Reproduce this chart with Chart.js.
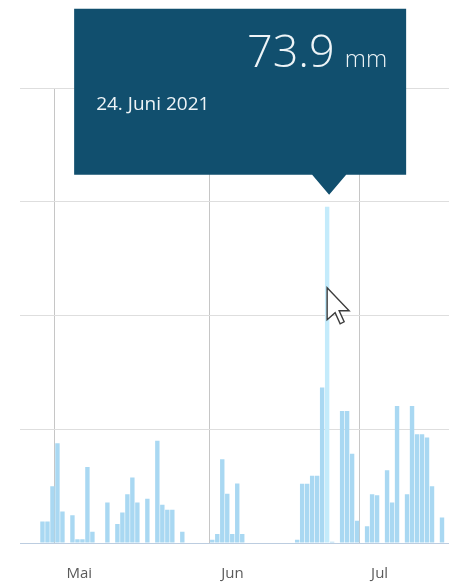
<!DOCTYPE html>
<html>
<head>
<meta charset="utf-8">
<script src="https://cdn.jsdelivr.net/npm/chart.js@4.4.0/dist/chart.umd.min.js"></script>
<style>
html, body { margin: 0; padding: 0; background: #fff; overflow: hidden; width: 449px; height: 587px; }
canvas { display: block; }
</style>
</head>
<body>
<canvas id="regen" width="449" height="587"></canvas>
<script>
// Niederschlag pro Tag in mm
const aprilStart = 24; // 24. April ist der erste sichtbare Tag
const aprilWerte = [0, 0, 0, 0, 4.7, 4.7, 12.5];
const maiWerte = [21.9, 6.9, 0, 6.1, 0.8, 0.8, 16.7, 2.5, 0, 0,
                  8.9, 0, 4.2, 6.7, 10.7, 14.4, 8.9, 0, 9.7, 0,
                  22.5, 8.4, 7.3, 7.3, 0, 2.5, 0, 0, 0, 0, 0];
const juniWerte = [0.7, 2.0, 18.4, 10.8, 2.0, 13.1, 2.0, 0, 0, 0,
                   0, 0, 0, 0, 0, 0, 0, 0.7, 13.0, 13.0,
                   14.8, 14.8, 34.2, 73.9, 0.3, 0, 29.0, 29.0, 19.6, 4.9];
const juliWerte = [0, 3.7, 10.7, 10.5, 0, 16.0, 8.9, 30.1, 0, 10.7,
                   30.1, 23.9, 23.9, 23.2, 12.5, 0, 5.6, 0];

const monatsNamen = { 4: 'April', 5: 'Mai', 6: 'Juni', 7: 'Juli' };
const monatsKurz = { 4: 'Apr', 5: 'Mai', 6: 'Jun', 7: 'Jul' };
const yTicks = [0, 25, 50, 75, 100];
const markierterTag = '2021-06-24';
const einheit = 'mm';

// gewuenschte Lage der Zeichenflaeche im Fenster
const flaecheRechts = 449;
const flaecheUnten = 543;

// Kategorien (ein Tag pro Balken) aus den Monatslisten
const tage = [];
const werte = [];
function monatAnhaengen(monat, ersterTag, liste) {
    liste.forEach(function(v, i) {
        const t = ersterTag + i;
        tage.push('2021-' + String(monat).padStart(2, '0') + '-' + String(t).padStart(2, '0'));
        werte.push(v);
    });
}
monatAnhaengen(4, aprilStart, aprilWerte);
monatAnhaengen(5, 1, maiWerte);
monatAnhaengen(6, 1, juniWerte);
monatAnhaengen(7, 1, juliWerte);

function teile(label) {
    const p = label.split('-').map(Number);
    return { jahr: p[0], monat: p[1], tag: p[2] };
}

const markIndex = tage.indexOf(markierterTag);

// Tooltip-Kasten und Mauszeiger
const hinweisPlugin = {
    id: 'hinweis',
    afterDatasetsDraw(chart) {
        const bar = chart.getDatasetMeta(0).data[markIndex];
        const ctx = chart.ctx;
        const spitzeX = bar.x + 2;
        const spitzeY = bar.y - 12;
        const breite = 332, hoehe = 166, pfeilH = 20, pfeilB = 17;
        const links = spitzeX - 255;
        const unten = spitzeY - pfeilH;
        const oben = unten - hoehe;
        const rechts = links + breite;

        ctx.save();
        ctx.fillStyle = '#114f6e';
        ctx.beginPath();
        ctx.moveTo(links, oben);
        ctx.lineTo(rechts, oben);
        ctx.lineTo(rechts, unten);
        ctx.lineTo(spitzeX + pfeilB, unten);
        ctx.lineTo(spitzeX, spitzeY);
        ctx.lineTo(spitzeX - pfeilB, unten);
        ctx.lineTo(links, unten);
        ctx.closePath();
        ctx.fill();

        ctx.fillStyle = '#eef4f7';
        ctx.textBaseline = 'alphabetic';
        ctx.font = '300 24px "Open Sans"';
        const mmB = ctx.measureText(einheit).width;
        const mmX = rechts - 19 - mmB;
        ctx.textAlign = 'left';
        ctx.fillText(einheit, mmX, oben + 58);

        ctx.font = '300 45px "Open Sans"';
        ctx.textAlign = 'right';
        ctx.fillText(werte[markIndex].toFixed(1), mmX - 10, oben + 58);

        const d = teile(markierterTag);
        ctx.font = '19px "Open Sans"';
        ctx.textAlign = 'left';
        ctx.fillText(d.tag + '. ' + monatsNamen[d.monat] + ' ' + d.jahr, links + 22, oben + 101);

        // Mauszeiger
        const mx = bar.x, my = bar.y + 81, s = 2;
        const punkte = [[0, 0], [0, 16], [4, 12.5], [6.5, 18], [8.5, 17], [6, 11.5], [11, 11.5]];
        ctx.beginPath();
        punkte.forEach(function(p, i) {
            if (i === 0) ctx.moveTo(mx + p[0] * s, my + p[1] * s);
            else ctx.lineTo(mx + p[0] * s, my + p[1] * s);
        });
        ctx.closePath();
        ctx.fillStyle = 'rgba(255,255,255,0.95)';
        ctx.fill();
        ctx.strokeStyle = '#3c3c3c';
        ctx.lineWidth = 1.4;
        ctx.stroke();
        ctx.restore();
    }
};

const canvas = document.getElementById('regen');

function baueChart(w, h) {
    canvas.width = w;
    canvas.height = h;
    canvas.style.width = w + 'px';
    canvas.style.height = h + 'px';
    return new Chart(canvas.getContext('2d'), {
        type: 'bar',
        data: {
            labels: tage,
            datasets: [{
                label: 'Niederschlag',
                data: werte,
                backgroundColor: function(c) {
                    return c.dataIndex === markIndex ? '#c4ebfb' : '#a9d8f2';
                },
                borderWidth: 0,
                categoryPercentage: 1.0,
                barPercentage: 0.88
            }]
        },
        options: {
            responsive: false,
            animation: false,
            layout: {
                padding: { top: 88, left: 20, right: 0, bottom: 0 }
            },
            plugins: {
                legend: { display: false },
                tooltip: { enabled: false }
            },
            scales: {
                x: {
                    grid: {
                        offset: true,
                        drawTicks: false,
                        color: function(c) {
                            const l = tage[c.index];
                            return l && teile(l).tag === 1 ? '#c6c6c6' : 'rgba(0,0,0,0)';
                        }
                    },
                    border: { color: '#bccde0', width: 1 },
                    ticks: {
                        autoSkip: false,
                        maxRotation: 0,
                        align: 'start',
                        labelOffset: 9,
                        padding: 22,
                        color: '#5a5a5a',
                        font: { family: 'Open Sans', size: 15 },
                        callback: function(value) {
                            const d = teile(this.getLabelForValue(value));
                            return d.tag === 1 ? monatsKurz[d.monat] : '';
                        }
                    }
                },
                y: {
                    min: 0,
                    max: 100,
                    afterBuildTicks: function(s) {
                        s.ticks = yTicks.map(function(v) { return { value: v }; });
                    },
                    ticks: { display: false },
                    grid: { color: '#dedede', drawTicks: false },
                    border: { display: false }
                }
            }
        },
        plugins: [hinweisPlugin]
    });
}

// erster Durchlauf misst den Rand der Achsen, zweiter setzt die Flaeche an die richtige Stelle
let regenChart = baueChart(449, 587);
const randRechts = regenChart.width - regenChart.chartArea.right;
const randUnten = regenChart.height - regenChart.chartArea.bottom;
regenChart.destroy();
regenChart = baueChart(Math.round(flaecheRechts + randRechts), Math.round(flaecheUnten + randUnten));
</script>
</body>
</html>
